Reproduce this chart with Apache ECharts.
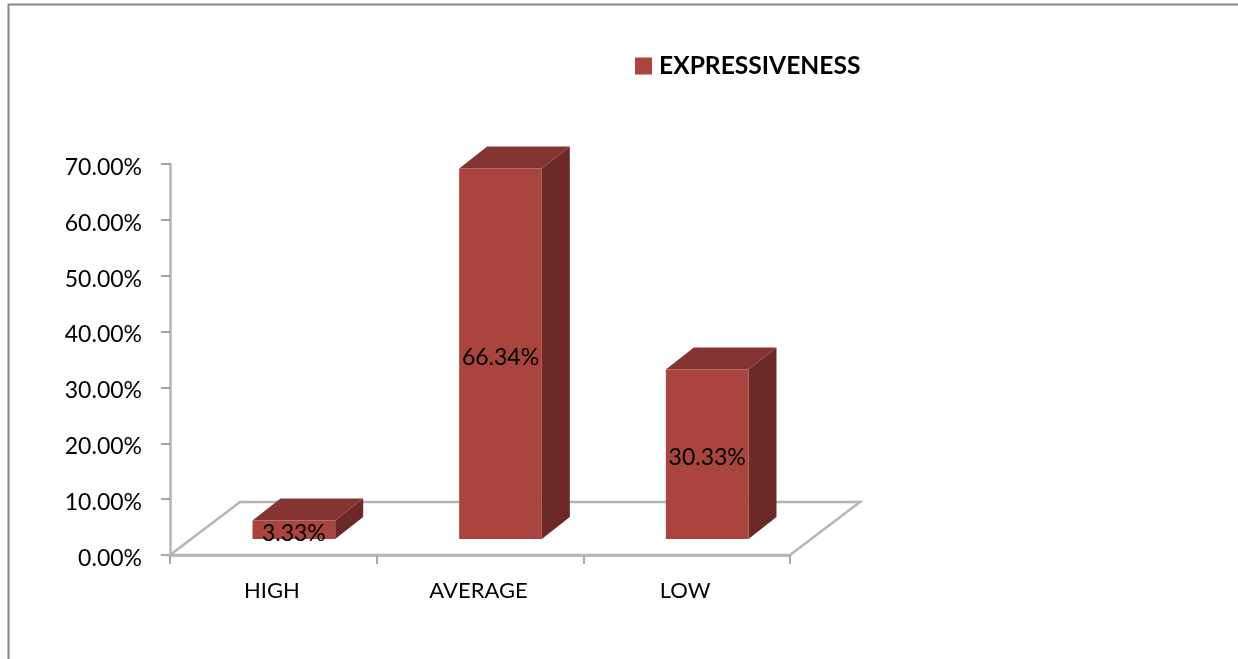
<!DOCTYPE html>
<html><head><meta charset="utf-8">
<style>html,body{margin:0;padding:0;background:#fff}#c{width:1238px;height:659px}</style>
<script src="https://cdn.jsdelivr.net/npm/echarts@6/dist/echarts.min.js"></script>
</head><body><div id="c"></div>
<script>
const categories = ['HIGH', 'AVERAGE', 'LOW'];
const expressiveness = [3.33, 66.34, 30.33];
const seriesName = 'EXPRESSIVENESS';
const FONT = 'Lato, "Open Sans", sans-serif';
const C = {front:'#A9443F', top:'#843432', side:'#6B2A27', grid:'#B5B5B5', frame:'#868686'};
const DX = 28, DY = 22;

const chart = echarts.init(document.getElementById('c'), null, {renderer:'canvas'});
chart.setOption({
  animation:false,
  backgroundColor:'#fff',
  textStyle:{fontFamily:FONT},
  graphic:[{type:'rect',silent:true,shape:{x:8.5,y:4.5,width:1400,height:800},
    style:{fill:'none',stroke:C.frame,lineWidth:2},z:-10}],
  legend:{data:[seriesName],left:630,top:48.5,icon:'rect',itemWidth:17,itemHeight:17,itemGap:8,
    textStyle:{fontFamily:FONT,fontSize:24.6,fontWeight:'bold',color:'#000',padding:[0,0,0,2]}},
  grid:{left:170,right:448,top:164,bottom:104,containLabel:false},
  xAxis:{type:'category',data:categories,boundaryGap:true,
    axisLine:{show:true,lineStyle:{color:C.grid,width:2.5}},
    axisTick:{show:true,length:9,alignWithLabel:false,lineStyle:{color:'#8a8a8a',width:1.5}},
    axisLabel:{color:'#000',fontFamily:FONT,fontSize:22,margin:25,interval:0,padding:[0,3,0,0]},
    splitLine:{show:false}},
  yAxis:{type:'value',min:0,max:70,interval:10,
    axisLine:{show:true,lineStyle:{color:C.grid,width:2.5}},
    axisTick:{show:true,length:9,lineStyle:{color:'#8a8a8a',width:1.5}},
    axisLabel:{color:'#000',margin:28,
      formatter:v=>'{a|'+v.toFixed(2)+'%}',
      rich:{a:{fontFamily:FONT,fontSize:23,color:'#000',padding:[7,0,0,0]}}},
    splitLine:{show:false}},
  series:[
    {type:'custom',name:'floor',coordinateSystem:'cartesian2d',silent:true,clip:false,z:1,
      data:[[0,0]],encode:{x:0,y:1},
      renderItem:(p,api)=>{
        const cs=p.coordSys, x0=cs.x, x1=cs.x+cs.width, y0=cs.y+cs.height, dx=70, dy=53;
        return {type:'polygon',shape:{points:[[x0,y0],[x0+dx,y0-dy],[x1+dx,y0-dy],[x1,y0]]},
          style:{fill:'#fff',stroke:C.grid,lineWidth:2.5}};
      }},
    {type:'custom',name:seriesName,coordinateSystem:'cartesian2d',clip:false,z:3,
      itemStyle:{color:C.front},
      data:expressiveness.map((v,i)=>[i,v]),encode:{x:0,y:1},
      renderItem:(p,api)=>{
        const v=api.value(1), pt=api.coord([api.value(0),v]), base=api.coord([api.value(0),0]);
        const w=api.size([1,0])[0]*0.4;
        const l=pt[0]+20.5-w/2, r=l+w, t=pt[1]-16, b=base[1]-16;
        return {type:'group',children:[
          {type:'polygon',shape:{points:[[r,t],[r+DX,t-DY],[r+DX,b-DY],[r,b]]},style:{fill:C.side}},
          {type:'polygon',shape:{points:[[l,t],[l+DX,t-DY],[r+DX,t-DY],[r,t]]},style:{fill:C.top}},
          {type:'rect',shape:{x:l,y:t,width:w,height:b-t},style:{fill:C.front}},
          {type:'text',style:{x:(l+r)/2,y:(t+b)/2+3.5,text:v.toFixed(2)+'%',align:'center',verticalAlign:'middle',
            fill:'#000',font:'23px '+FONT}}
        ]};
      }}
  ]
});
</script></body></html>
